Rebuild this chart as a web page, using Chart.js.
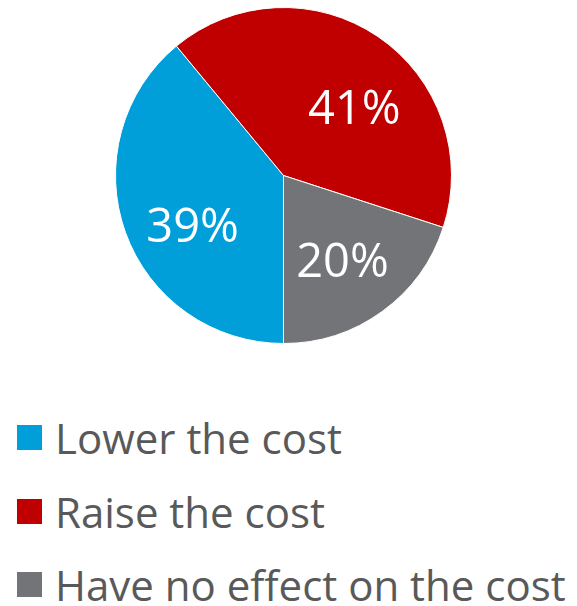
<!DOCTYPE html>
<html>
<head>
<meta charset="utf-8">
<script src="https://cdn.jsdelivr.net/npm/chart.js@4/dist/chart.umd.min.js"></script>
<style>
  body { margin: 0; background: #fff; font-family: "Open Sans", sans-serif; }
  #wrap { position: relative; width: 577px; height: 350px; }
  #legend { margin-top: 51px; }
  .item { display: flex; align-items: center; height: 73.5px; color: #595959; font-size: 42px; }
  .box { width: 25px; height: 25px; margin-left: 17px; margin-right: 13px; flex: none; }
</style>
</head>
<body>
<div id="wrap"><canvas id="pieChart"></canvas></div>
<div id="legend"></div>
<script>
// datos
const categories = ["Lower the cost", "Raise the cost", "Have no effect on the cost"];
const shares = [39, 41, 20];
const colors = ["#009FDA", "#C00000", "#737477"];

// etiquetas de porcentaje dentro de cada porcion
const pctLabels = {
  id: "pctLabels",
  afterDatasetsDraw(chart, args, opts) {
    const { ctx } = chart;
    const meta = chart.getDatasetMeta(0);
    ctx.save();
    ctx.fillStyle = "#fff";
    ctx.font = '47px "Open Sans"';
    ctx.textAlign = "center";
    ctx.textBaseline = "middle";
    meta.data.forEach((arc, i) => {
      const { x, y, startAngle, endAngle, outerRadius } = arc.getProps(
        ["x", "y", "startAngle", "endAngle", "outerRadius"], true);
      // Excel mueve un poco las etiquetas ("best fit")
      const mid = (startAngle + endAngle) / 2 + (opts.turn[i] * Math.PI) / 180;
      const r = outerRadius * opts.dist[i];
      ctx.fillText(shares[i] + "%", x + Math.cos(mid) * r, y + Math.sin(mid) * r + 2);
    });
    ctx.restore();
  },
};

const renderPie = () => {
  const data = {
    labels: categories,
    datasets: [
      {
        data: shares,
        backgroundColor: colors,
        borderColor: "#fff",
        borderWidth: 1,
      },
    ],
  };
  const options = {
    responsive: true,
    maintainAspectRatio: false,
    animation: false,
    rotation: 180,
    layout: { padding: { top: 7, bottom: 6, left: 0, right: 10 } },
    plugins: {
      legend: { display: false },
      tooltip: { enabled: false },
      pctLabels: { turn: [-9.5, 12.5, 1.5], dist: [0.62, 0.58, 0.62] },
    },
  };
  new Chart("pieChart", { type: "pie", data, options, plugins: [pctLabels] });
};

const renderLegend = () => {
  const legend = document.getElementById("legend");
  categories.forEach((name, i) => {
    const row = document.createElement("div");
    row.className = "item";
    row.innerHTML = `<span class="box" style="background:${colors[i]}"></span><span>${name}</span>`;
    legend.appendChild(row);
  });
};

renderPie();
renderLegend();
</script>
</body>
</html>
